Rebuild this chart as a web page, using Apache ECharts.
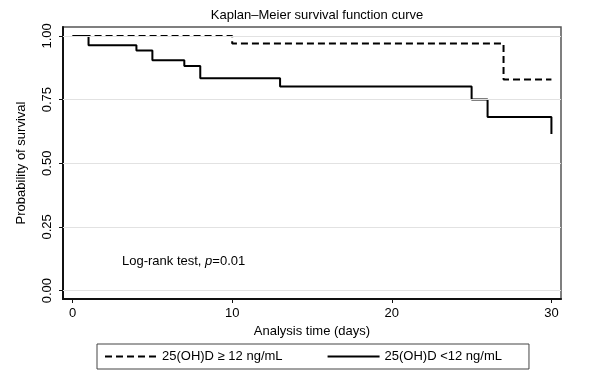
<!DOCTYPE html>
<html>
<head>
<meta charset="utf-8">
<script src="https://cdn.jsdelivr.net/npm/echarts@6/dist/echarts.min.js"></script>
<style>html,body{margin:0;padding:0;background:#fff}#c{width:590px;height:380px}</style>
</head>
<body>
<div id="c"></div>
<script>
var titleText = 'Kaplan\u2013Meier survival function curve';
var seriesNames = ['25(OH)D \u2265 12 ng/mL', '25(OH)D <12 ng/mL'];
var highTimes = [0, 10, 27, 30];
var highSurv  = [1.000, 0.970, 0.829, 0.829];
var lowTimes  = [0, 1, 4, 5, 7, 8, 13, 25, 26, 30];
var lowSurv   = [1.000, 0.963, 0.943, 0.904, 0.882, 0.834, 0.801, 0.750, 0.682, 0.615];
var xTicks = [0, 10, 20, 30];
var yTicks = [0, 0.25, 0.5, 0.75, 1];
var xName = 'Analysis time (days)';
var yName = 'Probability of survival';

function pairs(xs, ys){ return xs.map(function(x,i){return [x, ys[i]];}); }

var font = 'Liberation Sans, Arial, sans-serif';
var chart = echarts.init(document.getElementById('c'), null, {renderer:'canvas'});
chart.setOption({
  backgroundColor: '#fff',
  animation: false,
  title: {text: titleText, left: 312, textAlign: 'center', top: 4,
    textStyle: {fontFamily: font, fontSize: 13, fontWeight: 'normal', color: '#000'}},
  grid: {left: 63, top: 27, right: 29, bottom: 81, show: true, borderColor: '#555', borderWidth: 1.5, backgroundColor: '#fff'},
  xAxis: {type: 'value', min: -0.6, max: 30.6,
    name: xName, nameLocation: 'middle', nameGap: 22,
    nameTextStyle: {fontFamily: font, fontSize: 13, color: '#000'},
    axisLine: {show: true, onZero: false, lineStyle: {color: '#111', width: 2}},
    axisTick: {show: true, length: 4, customValues: xTicks, lineStyle: {color: '#111', width: 1}},
    axisLabel: {customValues: xTicks, margin: 8, fontFamily: font, fontSize: 13, color: '#000'},
    splitLine: {show: false}},
  yAxis: {type: 'value', min: -0.033, max: 1.035,
    name: yName, nameLocation: 'middle', nameGap: 35,
    nameTextStyle: {fontFamily: font, fontSize: 13, color: '#000'},
    axisLine: {show: true, onZero: false, lineStyle: {color: '#111', width: 2}},
    axisTick: {show: true, length: 4, customValues: yTicks, lineStyle: {color: '#111', width: 1}},
    axisLabel: {customValues: yTicks, rotate: 90, margin: 9, fontFamily: font, fontSize: 13, color: '#000',
      formatter: function(v){ return v.toFixed(2); }},
    splitLine: {show: false}},
  legend: {
    left: 97, top: 344, orient: 'horizontal',
    data: seriesNames,
    itemWidth: 52, itemHeight: 10, itemGap: 44,
    padding: [6, 27, 6, 7],
    borderColor: '#444', borderWidth: 1,
    itemStyle: {opacity: 0},
    textStyle: {fontFamily: font, fontSize: 13, color: '#000'}
  },
  graphic: [{
    type: 'text', left: 122, top: 255,
    style: {
      text: '{n|Log-rank test, }{i|p}{n|=0.01}',
      rich: {
        n: {fontFamily: font, fontSize: 13, fill: '#000'},
        i: {fontFamily: font, fontSize: 13, fontStyle: 'italic', fill: '#000'}
      }
    }
  }],
  series: [
    {type: 'line', name: '_grid', silent: true, z: 1, data: [],
      markLine: {silent: true, symbol: 'none', label: {show: false},
        lineStyle: {color: '#e2e2e2', width: 1, type: 'solid'},
        data: yTicks.map(function(v){ return {yAxis: v}; })}},
    {type: 'line', name: seriesNames[0], step: 'end', symbol: 'none', z: 3,
      data: pairs(highTimes, highSurv),
      lineStyle: {color: '#000', width: 2, type: [7, 4]}, itemStyle: {color: '#000'}},
    {type: 'line', name: seriesNames[1], step: 'end', symbol: 'none', z: 3,
      data: pairs(lowTimes, lowSurv),
      lineStyle: {color: '#000', width: 2, type: 'solid'}, itemStyle: {color: '#000'}}
  ]
});
</script>
</body>
</html>
